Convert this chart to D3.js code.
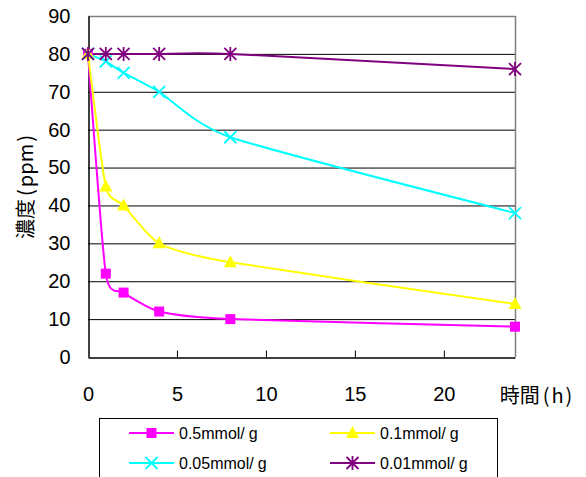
<!DOCTYPE html>
<html>
<head>
<meta charset="utf-8">
<script src="https://cdn.jsdelivr.net/npm/d3@7"></script>
<style>
  html, body { margin: 0; padding: 0; background: #fff; }
  svg { display: block; font-family: "Liberation Sans", Arial, sans-serif; }
</style>
</head>
<body>
<svg id="chart" width="586" height="477"></svg>
<script>
// Sampling times (h)
const times = [0, 1, 2, 4, 8, 24];
// Concentration (ppm) for each adsorbent dose
const conc05 = [80, 22, 17, 12, 10, 8];
const conc01 = [80, 45, 40, 30, 25, 14];
const conc005 = [80, 78, 75, 70, 58, 38];
const conc001 = [80, 80, 80, 80, 80, 76];
const seriesNames = ["0.5mmol/g", "0.1mmol/g", "0.05mmol/g", "0.01mmol/g"];
const xTicks = [0, 5, 10, 15, 20];
const yTicks = [0, 10, 20, 30, 40, 50, 60, 70, 80, 90];

const series = [
  { name: seriesNames[0], values: conc05, color: "#ff00ff", marker: "square" },
  { name: seriesNames[1], values: conc01, color: "#ffff00", marker: "triangle" },
  { name: seriesNames[2], values: conc005, color: "#00ffff", marker: "x" },
  { name: seriesNames[3], values: conc001, color: "#800080", marker: "star" }
];

const svg = d3.select("#chart");
const plotLeft = 88, plotRight = 515, plotTop = 16, plotBottom = 357;

const x = d3.scaleLinear().domain([0, 24]).range([plotLeft, plotRight]);
const y = d3.scaleLinear().domain([0, 90]).range([plotBottom, plotTop]);

// Horizontal gridlines
svg.append("g").selectAll("line")
  .data(yTicks.filter(v => v > 0 && v < 90))
  .join("line")
  .attr("x1", plotLeft).attr("x2", plotRight)
  .attr("y1", d => y(d) + 0.5).attr("y2", d => y(d) + 0.5)
  .attr("stroke", "#000").attr("stroke-width", 1);

// Plot frame: grey top and right edges
svg.append("line").attr("x1", plotLeft).attr("x2", plotRight + 0.5)
  .attr("y1", y(90) + 0.5).attr("y2", y(90) + 0.5)
  .attr("stroke", "#808080").attr("stroke-width", 1.5);
svg.append("line").attr("x1", plotRight + 0.5).attr("x2", plotRight + 0.5)
  .attr("y1", y(90)).attr("y2", plotBottom)
  .attr("stroke", "#808080").attr("stroke-width", 1.5);

// Y axis
const yAxis = d3.axisLeft(y).tickValues(yTicks).tickSize(0).tickPadding(18);
const gy = svg.append("g").attr("transform", `translate(${plotLeft + 0.5},0)`).call(yAxis);
gy.select(".domain").attr("stroke", "#000").attr("stroke-width", 1.5);
gy.selectAll("text").attr("font-size", 20).attr("fill", "#000")
  .attr("font-family", "Liberation Sans, Arial, sans-serif");

// X axis with inward ticks
const xAxis = d3.axisBottom(x).tickValues(xTicks).tickSizeInner(-7).tickSizeOuter(0).tickPadding(29);
const gx = svg.append("g").attr("transform", `translate(0,${plotBottom + 0.5})`).call(xAxis);
gx.select(".domain").attr("stroke", "#000").attr("stroke-width", 1.5);
gx.selectAll(".tick line").attr("stroke", "#000");
gx.selectAll(".tick").filter(d => d === 0).select("line").remove();
gx.selectAll("text").attr("font-size", 20).attr("fill", "#000")
  .attr("font-family", "Liberation Sans, Arial, sans-serif");

// Axis titles (CJK text with loose bracket spacing)
function spacedTitle(sel, main, unit) {
  sel.append("tspan").text(main);
  sel.append("tspan").attr("dx", 3).text("(");
  sel.append("tspan").attr("dx", 2).text(unit);
  sel.append("tspan").attr("dx", 2).text(")");
}

spacedTitle(svg.append("text")
  .attr("x", 536).attr("y", 403)
  .attr("text-anchor", "middle")
  .attr("font-size", 20)
  .attr("font-family", "Noto Sans CJK JP, sans-serif"), "時間", "h");

spacedTitle(svg.append("text")
  .attr("transform", "translate(33,187) rotate(-90)")
  .attr("text-anchor", "middle")
  .attr("font-size", 20)
  .attr("font-family", "Noto Sans CJK JP, sans-serif"), "濃度", "ppm");

// Marker shapes
function drawMarker(g, type, color) {
  if (type === "square") {
    g.append("rect").attr("x", -5).attr("y", -5).attr("width", 10).attr("height", 10)
      .attr("fill", color);
  } else if (type === "triangle") {
    g.append("path").attr("d", "M0,-7L6.5,5L-6.5,5Z").attr("fill", color);
  } else if (type === "x") {
    g.append("path").attr("d", "M-6,-6L6,6M-6,6L6,-6")
      .attr("stroke", color).attr("stroke-width", 1.8).attr("fill", "none");
  } else {
    g.append("path").attr("d", "M-6,-6L6,6M-6,6L6,-6M0,-7L0,7")
      .attr("stroke", color).attr("stroke-width", 1.8).attr("fill", "none");
  }
}

// Smoothed lines and markers
const line = d3.line()
  .x(d => x(d[0])).y(d => y(d[1]))
  .curve(d3.curveCardinal.tension(0.4));

series.forEach(s => {
  const pts = times.map((t, i) => [t, s.values[i]]);
  svg.append("path").datum(pts)
    .attr("d", line)
    .attr("fill", "none").attr("stroke", s.color).attr("stroke-width", 2);
});
series.forEach(s => {
  times.forEach((t, i) => {
    const g = svg.append("g").attr("transform", `translate(${x(t)},${y(s.values[i])})`);
    drawMarker(g, s.marker, s.color);
  });
});

// Legend
const legend = svg.append("g");
legend.append("rect")
  .attr("x", 99.5).attr("y", 418.5).attr("width", 398).attr("height", 70)
  .attr("fill", "#fff").attr("stroke", "#000").attr("stroke-width", 1);

const legendPos = [
  { lx: 129, ly: 433 }, { lx: 330, ly: 433 },
  { lx: 129, ly: 463 }, { lx: 330, ly: 463 }
];
series.forEach((s, i) => {
  const p = legendPos[i];
  const g = legend.append("g");
  g.append("line").attr("x1", p.lx).attr("x2", p.lx + 45)
    .attr("y1", p.ly).attr("y2", p.ly)
    .attr("stroke", s.color).attr("stroke-width", 2);
  const m = g.append("g").attr("transform", `translate(${p.lx + 22.5},${p.ly})`);
  drawMarker(m, s.marker, s.color);
  const parts = s.name.split("/");
  const t = g.append("text").attr("x", p.lx + 50).attr("y", p.ly + 6)
    .attr("font-size", 16).attr("fill", "#000");
  t.append("tspan").text(parts[0] + "/");
  t.append("tspan").attr("dx", 4).text(parts[1]);
});
</script>
</body>
</html>
